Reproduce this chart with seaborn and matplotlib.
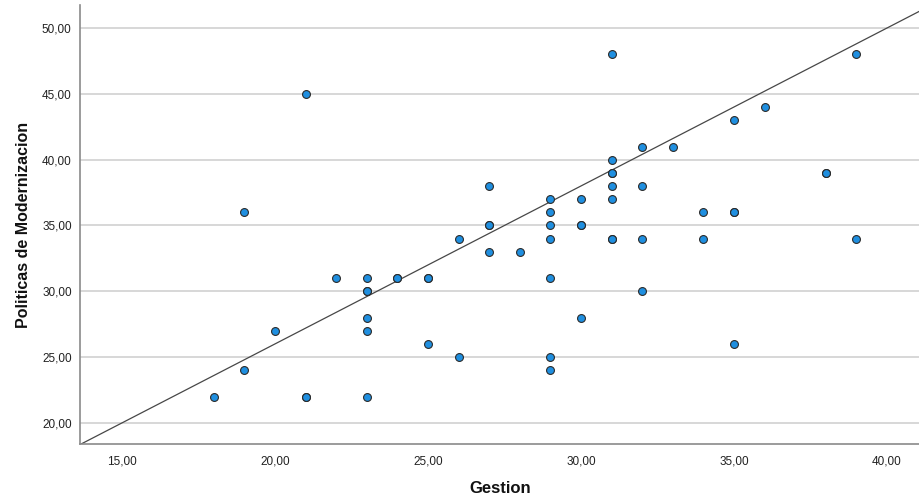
"""
Scatter of Gestion vs Politicas de Modernizacion with a reference line,
SPSS-style layout.
"""

import matplotlib
matplotlib.use("Agg")
import matplotlib.pyplot as plt
import seaborn as sns
import pandas as pd
from matplotlib.ticker import FuncFormatter, MultipleLocator

# scores (some points repeat, drawn on top of each other)
gestion = [
    18, 19, 19, 20, 21, 21, 21, 22,
    23, 23, 23, 23, 23, 23,
    24, 24, 25, 25, 25, 26, 26,
    27, 27, 27, 27, 28,
    29, 29, 29, 29, 29, 29, 29,
    30, 30, 30, 30,
    31, 31, 31, 31, 31, 31, 31, 31,
    32, 32, 32, 32, 33,
    34, 34, 35, 35, 35, 35, 36, 38, 38, 39, 39,
]
politicas = [
    22, 24, 36, 27, 45, 22, 22, 31,
    31, 30, 30, 28, 27, 22,
    31, 31, 31, 31, 26, 34, 25,
    38, 35, 35, 33, 33,
    37, 36, 35, 34, 31, 25, 24,
    37, 35, 35, 28,
    48, 40, 39, 39, 38, 37, 34, 34,
    41, 38, 34, 30, 41,
    36, 34, 43, 36, 36, 26, 44, 39, 39, 48, 34,
]

# reference line drawn across the plot
line_intercept = 2.0
line_slope = 1.2

x_label = "Gestion"
y_label = "Politicas de Modernizacion"


def comma_fmt(v, pos):
    return f"{v:.2f}".replace(".", ",")


df = pd.DataFrame({x_label: gestion, y_label: politicas})

sns.set_style("white")
plt.rcParams["font.family"] = ["Liberation Sans", "DejaVu Sans"]

fig = plt.figure(figsize=(9.2, 4.99), dpi=100)
ax = fig.add_axes([80 / 920, 55 / 499, 840 / 920, 439 / 499])

ax.set_xlim(13.63, 41.08)
ax.set_ylim(18.4, 51.75)

ax.yaxis.set_major_locator(MultipleLocator(5))
ax.xaxis.set_major_locator(MultipleLocator(5))
ax.yaxis.grid(True, color="#d4d4d4", linewidth=1.3)
ax.xaxis.grid(False)
ax.set_axisbelow(True)

ax.axline((0, line_intercept), slope=line_slope, color="#474747", linewidth=0.9, zorder=2)

sns.scatterplot(
    data=df, x=x_label, y=y_label, ax=ax,
    s=32, color="#1f8fe0", edgecolor="#2b2b2b", linewidth=0.8, zorder=3,
)

ax.xaxis.set_major_formatter(FuncFormatter(comma_fmt))
ax.yaxis.set_major_formatter(FuncFormatter(comma_fmt))
ax.tick_params(axis="both", length=0, labelsize=8.5, colors="#222222")
ax.tick_params(axis="y", pad=6)
ax.tick_params(axis="x", pad=8)

for side in ["top", "right"]:
    ax.spines[side].set_visible(False)
for side in ["left", "bottom"]:
    ax.spines[side].set_color("#8a8a8a")
    ax.spines[side].set_linewidth(1.2)

ax.set_xlabel(x_label, fontsize=12, fontweight="bold", color="#111111")
ax.set_ylabel(y_label, fontsize=11.5, fontweight="bold", color="#111111")
ax.xaxis.set_label_coords(0.5, -0.085)
ax.yaxis.set_label_coords(-0.058, 0.5)

fig.savefig("out.png", dpi=100)
plt.close(fig)
